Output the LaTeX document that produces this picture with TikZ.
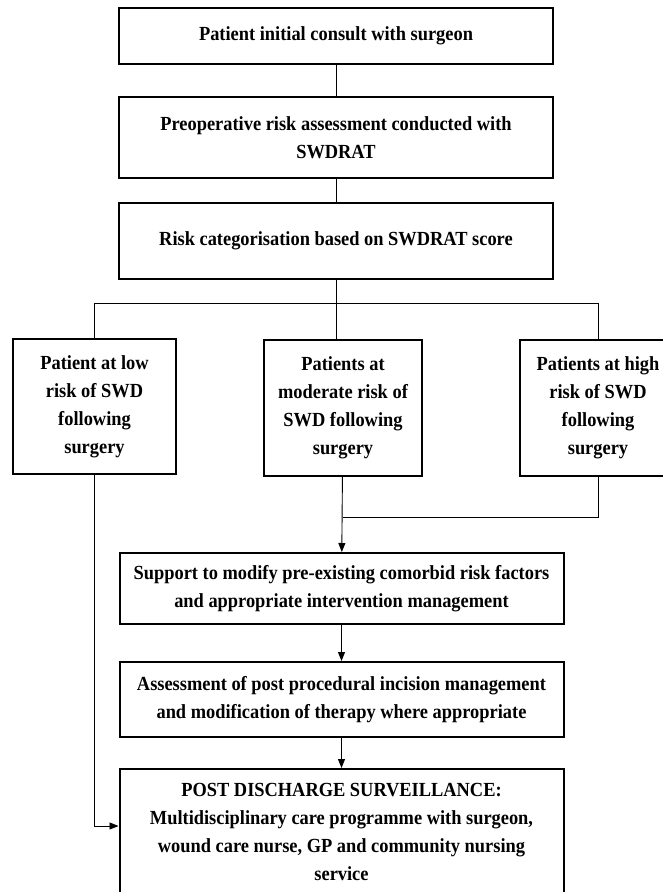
\documentclass[tikz,border=0pt]{standalone}
\usepackage{fontspec}
\setmainfont{Liberation Serif}[FakeStretch=0.92]
\usetikzlibrary{arrows.meta}

\begin{document}
\begin{tikzpicture}[x=1pt,y=-1pt,
		box/.style={draw,line width=2pt,align=center,inner sep=0pt,
			font=\fontsize{20}{28}\selectfont\bfseries},
		link/.style={line width=0.9pt},
		arr/.style={link,-{Triangle[length=9pt,width=7pt]}}]
		\useasboundingbox[fill=white] (0,0) rectangle (662,892);
		% top column
		\node[box,minimum width=434pt,minimum height=56pt] (consult) at (336,36) {Patient initial consult with surgeon};
		\node[box,minimum width=434pt,minimum height=81pt] (preop) at (336,137.5) {Preoperative risk assessment conducted with\\SWDRAT};
		\node[box,minimum width=434pt,minimum height=76pt] (categ) at (336,241) {Risk categorisation based on SWDRAT score};
		% the three risk groups
		\node[box,minimum width=163pt,minimum height=135pt] (lowrisk) at (94.5,406.5) {Patient at low\\risk of SWD\\following\\surgery};
		\node[box,minimum width=158pt,minimum height=136pt] (modrisk) at (343,408) {Patients at\\moderate risk of\\SWD following\\surgery};
		\node[box,minimum width=156pt,minimum height=136pt] (highrisk) at (598,407.5) {Patients at high\\risk of SWD\\following\\surgery};
		% lower column
		\node[box,minimum width=444pt,minimum height=71pt] (support) at (341.5,588.5) {Support to modify pre-existing comorbid risk factors\\and appropriate intervention management};
		\node[box,minimum width=444pt,minimum height=75pt] (assess) at (341.5,699.5) {Assessment of post procedural incision management\\and modification of therapy where appropriate};
		\node[box,minimum width=444pt,minimum height=126pt] (postdc) at (341.5,832) {POST DISCHARGE SURVEILLANCE:\\Multidisciplinary care programme with surgeon,\\wound care nurse, GP and community nursing\\service};
		\coordinate (split) at (336,303);
		\coordinate (splitL) at (94.5,303);
		\coordinate (splitR) at (598,303);
		\coordinate (merge) at (343,517);
		\coordinate (lowbend) at (94.5,826);
		\draw[link] (consult) -- (preop);
		\draw[link] (preop) -- (categ);
		\draw[link] (categ) -- (split);
		\draw[link] (splitL) -- (splitR);
		\draw[link] (splitL) -- (lowrisk);
		\draw[link] (split) -- (split |- modrisk.north);
		\draw[link] (splitR) -- (highrisk);
		\draw[link] (highrisk.south) -- (highrisk.south |- merge) -- (merge);
		\draw[arr] (modrisk) -- (support);
		\draw[arr] (support) -- (assess);
		\draw[arr] (assess) -- (postdc);
		\draw[arr] (lowrisk) -- (lowbend) -- (lowbend -| postdc.west);
	\end{tikzpicture}
\end{document}
